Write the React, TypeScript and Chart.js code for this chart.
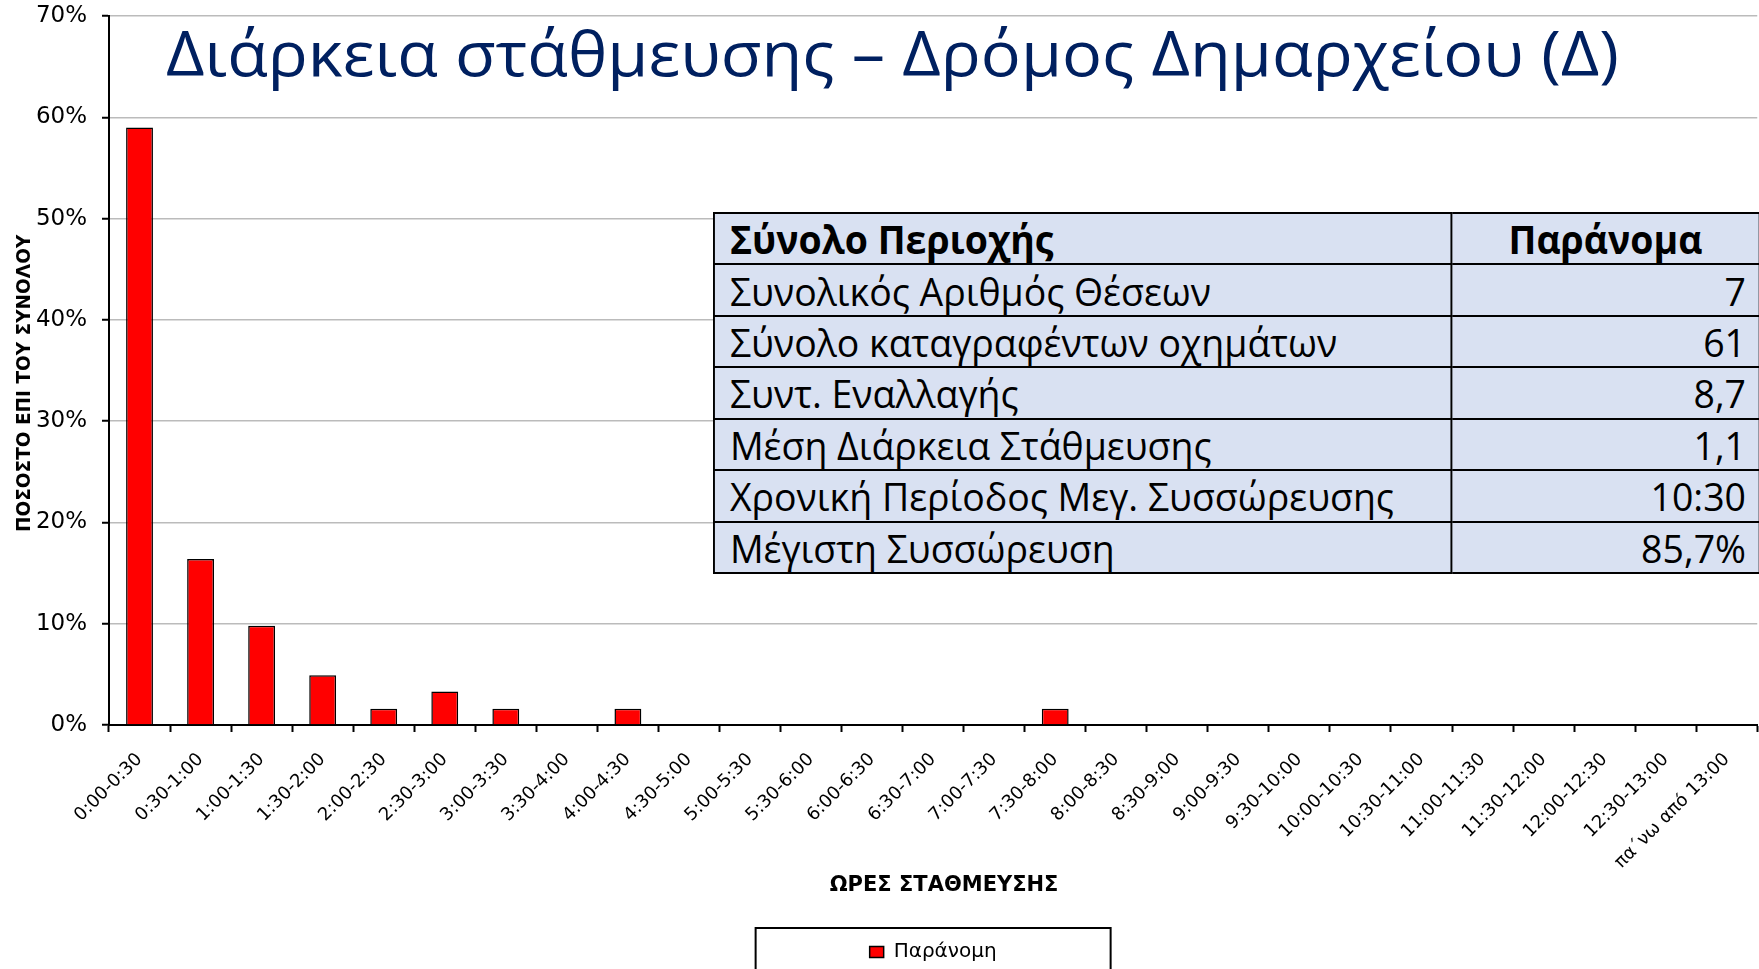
import React, { useEffect, useMemo, useRef } from 'react';
import { Chart, registerables } from 'chart.js';

Chart.register(...registerables);

const categories = [
  '0:00-0:30', '0:30-1:00', '1:00-1:30', '1:30-2:00', '2:00-2:30', '2:30-3:00',
  '3:00-3:30', '3:30-4:00', '4:00-4:30', '4:30-5:00', '5:00-5:30', '5:30-6:00',
  '6:00-6:30', '6:30-7:00', '7:00-7:30', '7:30-8:00', '8:00-8:30', '8:30-9:00',
  '9:00-9:30', '9:30-10:00', '10:00-10:30', '10:30-11:00', '11:00-11:30',
  '11:30-12:00', '12:00-12:30', '12:30-13:00', 'πα΄νω από 13:00',
];
const illegalShare = [
  59.0, 16.4, 9.8, 4.9, 1.6, 3.3, 1.6, 0, 1.6, 0, 0, 0, 0, 0, 0, 1.6,
  0, 0, 0, 0, 0, 0, 0, 0, 0, 0, 0,
];
const seriesLabel = 'Παράνομη';
const titleText = 'Διάρκεια στάθμευσης – Δρόμος Δημαρχείου (Δ)';
const xAxisTitle = 'ΩΡΕΣ ΣΤΑΘΜΕΥΣΗΣ';
const yAxisTitle = 'ΠΟΣΟΣΤΟ ΕΠΙ ΤΟΥ ΣΥΝΟΛΟΥ';
const tableHeader = ['Σύνολο Περιοχής', 'Παράνομα'];
const tableLabels = [
  'Συνολικός Αριθμός Θέσεων',
  'Σύνολο καταγραφέντων οχημάτων',
  'Συντ. Εναλλαγής',
  'Μέση Διάρκεια Στάθμευσης',
  'Χρονική Περίοδος Μεγ. Συσσώρευσης',
  'Μέγιστη Συσσώρευση',
];
const tableValues = ['7', '61', '8,7', '1,1', '10:30', '85,7%'];

function measure(text: string, font: string): number {
  const ctx = document.createElement('canvas').getContext('2d');
  if (!ctx) return 1;
  ctx.font = font;
  return ctx.measureText(text).width || 1;
}

const legendFrame = {
  id: 'legendFrame',
  afterDraw(chart: any) {
    const lg = chart.legend;
    if (!lg) return;
    const ctx = chart.ctx;
    const cx = (lg.left + lg.right) / 2;
    ctx.save();
    ctx.strokeStyle = '#000';
    ctx.lineWidth = 2;
    ctx.strokeRect(cx - 177.5, lg.top - 4, 355, 90);
    ctx.restore();
  },
};

const TABLE_FONT = 39;

export default function App() {
  const ref = useRef<HTMLCanvasElement>(null);
  const kTitle = useMemo(() => 1453 / measure(titleText, '400 62px "Open Sans"'), []);
  const kTable = useMemo(
    () => 664 / measure(tableLabels[4], `400 ${TABLE_FONT}px "Open Sans"`),
    []
  );

  useEffect(() => {
    document.body.style.margin = '0';
    document.documentElement.style.overflow = 'hidden';
    const canvas = ref.current;
    if (!canvas) return;
    const chart = new Chart(canvas, {
      type: 'bar',
      data: {
        labels: categories,
        datasets: [
          {
            label: seriesLabel,
            data: illegalShare,
            backgroundColor: '#ff0000',
            borderColor: '#000000',
            borderWidth: 1.5,
            barPercentage: 0.44,
            categoryPercentage: 1,
          },
        ],
      },
      options: {
        responsive: false,
        animation: false,
        layout: { padding: { top: 16, left: 0, right: 0, bottom: 0 } },
        plugins: {
          legend: {
            position: 'bottom',
            fullSize: false,
            labels: {
              boxWidth: 14,
              boxHeight: 11,
              padding: 10,
              color: '#000',
              font: { family: '"DejaVu Sans"', size: 20 },
            },
          },
          tooltip: { enabled: false },
        },
        scales: {
          x: {
            grid: {
              display: true,
              drawOnChartArea: false,
              drawTicks: true,
              tickLength: 7,
              tickColor: '#000',
              tickWidth: 2,
              offset: true,
            },
            border: { color: '#000', width: 2 },
            ticks: {
              autoSkip: false,
              maxRotation: 45,
              minRotation: 45,
              padding: 17,
              color: '#000',
              font: { family: '"DejaVu Sans"', size: 18 },
            },
            title: {
              display: true,
              text: '   ' + xAxisTitle,
              color: '#000',
              font: { family: '"DejaVu Sans"', size: 21, weight: 'bold' },
              padding: { top: 0, bottom: 34 },
            },
            afterFit: (s: any) => {
              s.height = 207;
            },
          },
          y: {
            min: 0,
            max: 70,
            ticks: {
              stepSize: 10,
              callback: (v: any) => v + '%',
              padding: 15,
              color: '#000',
              font: { family: '"DejaVu Sans"', size: 23 },
            },
            grid: {
              color: '#bbbbbb',
              lineWidth: 1.5,
              tickLength: 7,
              tickColor: '#000',
              tickWidth: 2,
            },
            border: { color: '#000', width: 2 },
            title: {
              display: true,
              text: yAxisTitle + '    ',
              color: '#000',
              font: { family: '"DejaVu Sans"', size: 18.5, weight: 'bold' },
              padding: { top: 14, bottom: 0 },
            },
            afterFit: (s: any) => {
              s.width = 109;
              s.paddingTop = 0;
              s.paddingBottom = 0;
            },
          },
        },
      } as any,
      plugins: [legendFrame],
    });
    return () => chart.destroy();
  }, []);

  const rowH = 360 / 7;
  const bw = 2;
  const cellBase: React.CSSProperties = {
    border: `${bw}px solid #000`,
    padding: 0,
    height: rowH,
    verticalAlign: 'middle',
    whiteSpace: 'nowrap',
    lineHeight: 1,
    boxSizing: 'border-box',
  };

  return (
    <div style={{ position: 'relative', width: 1759, height: 972, overflow: 'hidden', background: '#fff' }}>
      <canvas ref={ref} width={1759} height={972} style={{ display: 'block' }} />
      <div
        style={{
          position: 'absolute',
          left: 166,
          top: 21,
          fontFamily: '"Open Sans"',
          fontSize: 62,
          lineHeight: 1,
          color: '#002060',
          whiteSpace: 'nowrap',
          transform: `scaleX(${kTitle})`,
          transformOrigin: '0 0',
        }}
      >
        {titleText}
      </div>
      <table
        style={{
          position: 'absolute',
          left: 713,
          top: 212,
          width: 1046 / kTable,
          borderCollapse: 'collapse',
          tableLayout: 'fixed',
          transform: `scaleX(${kTable})`,
          transformOrigin: '0 0',
          background: '#d9e1f2',
          fontFamily: '"Open Sans"',
          fontSize: TABLE_FONT,
          color: '#000',
        }}
      >
        <colgroup>
          <col style={{ width: 737 / kTable }} />
          <col style={{ width: 309 / kTable }} />
        </colgroup>
        <tbody>
          <tr>
            <td style={{ ...cellBase, fontWeight: 700, paddingLeft: 15 / kTable }}>{tableHeader[0]}</td>
            <td style={{ ...cellBase, fontWeight: 700, textAlign: 'center' }}>{tableHeader[1]}</td>
          </tr>
          {tableLabels.map((lab, i) => (
            <tr key={lab}>
              <td style={{ ...cellBase, paddingLeft: 15 / kTable }}>{lab}</td>
              <td style={{ ...cellBase, textAlign: 'right', paddingRight: 13 / kTable }}>{tableValues[i]}</td>
            </tr>
          ))}
        </tbody>
      </table>
    </div>
  );
}
